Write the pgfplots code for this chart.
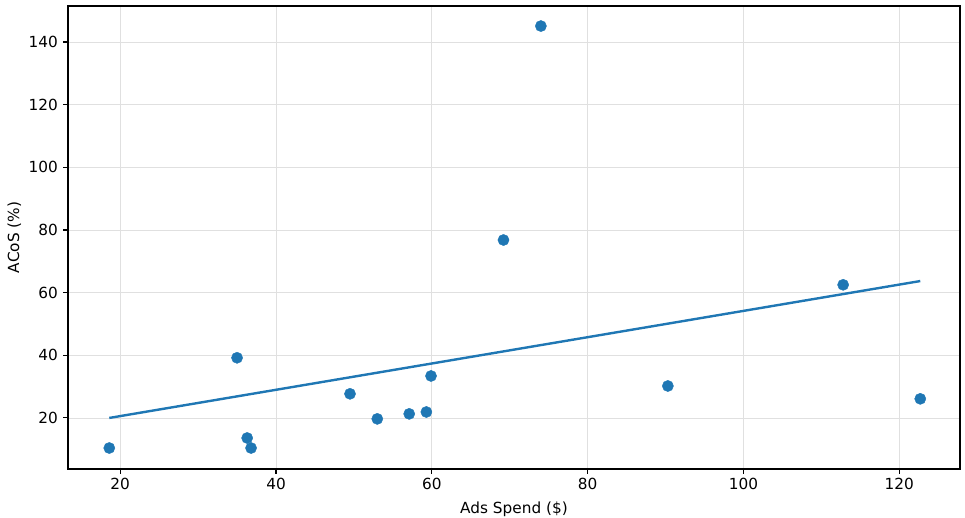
\documentclass[border=0pt]{standalone}
\usepackage{pgfplots}
\pgfplotsset{compat=1.18}
\usepackage{fontspec}
\setmainfont{DejaVu Sans}
\definecolor{tabblue}{HTML}{1F77B4}
\begin{document}
\fontsize{15.3bp}{18bp}\selectfont
\begin{tikzpicture}
\begin{axis}[
  name=ax,
  scale only axis,
  width=892bp, height=463bp,
  xmin=13.3, xmax=127.8,
  ymin=3.7, ymax=151.5,
  xtick={20,40,60,80,100,120},
  ytick={20,40,60,80,100,120,140},
  grid=major,
  grid style={line width=0.8bp, color=black!12},
  axis line style={line width=1.1bp},
  tick style={line width=1.1bp, color=black},
  tick align=outside,
  major tick length=4.9bp,
  xtick pos=bottom, ytick pos=left,
  /pgf/number format/assume math mode=true,
  ticklabel style={font=\fontsize{15.3bp}{18bp}\selectfont},
  label style={font=\fontsize{15.3bp}{18bp}\selectfont},
  xticklabel style={yshift=1bp},
  xlabel={Ads Spend (\$)},
  ylabel={ACoS (\%)},
  xlabel style={yshift=-2bp},
  ylabel style={yshift=-3bp},
]
\addplot[only marks, mark=*, mark size=5.6bp, color=tabblue, mark options={fill=tabblue, draw=tabblue}] coordinates {
(18.6,10.4) (35.0,39.2) (36.3,13.6) (36.8,10.4) (49.5,27.7) (53.0,19.7)
(57.1,21.3) (59.3,21.9) (59.9,33.4) (69.2,76.8) (74.0,145.1) (90.3,30.2)
(112.8,62.5) (122.7,26.1)
};
\addplot[color=tabblue, line width=2.4bp] coordinates {(18.6,20.0) (122.7,63.7)};
\end{axis}
\pgfresetboundingbox
\path[use as bounding box] (ax.south west) ++(-68bp,-49bp) rectangle ++(965bp,518bp);
\end{tikzpicture}
\end{document}
